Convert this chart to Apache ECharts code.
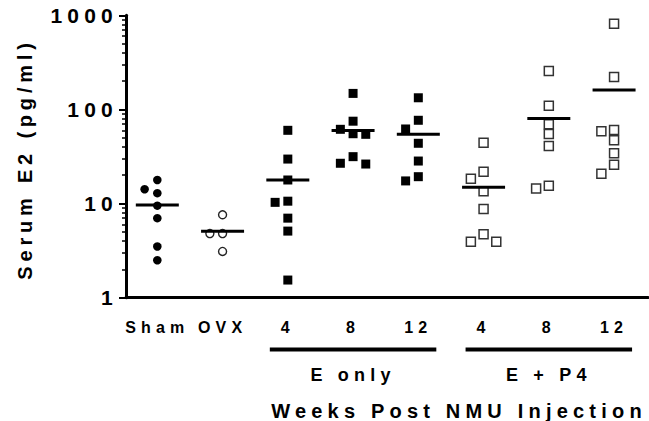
<!DOCTYPE html>
<html>
<head>
<meta charset="utf-8">
<script src="https://cdn.jsdelivr.net/npm/echarts@6/dist/echarts.min.js"></script>
<style>
  html, body { margin: 0; padding: 0; background: #fff; }
  #main { width: 649px; height: 421px; }
  #main text { letter-spacing: 5.2px; }
</style>
</head>
<body>
<div id="main"></div>
<script>
// ---- data ----
const categories = ['Sham', 'OVX', '4', '8', '12', '4', '8', '12'];
const sham    = [17.8, 12.9, 14.2, 9.5, 7.0, 3.5, 2.5];
const ovx     = [7.6, 4.8, 4.8, 3.1];
const eOnly4  = [60, 29.7, 17.8, 10.3, 10.6, 7.0, 5.1, 1.54];
const eOnly8  = [148, 75, 61.5, 55.2, 54.4, 31.5, 26.3, 26.8];
const eOnly12 = [133, 76.7, 62, 43.7, 28.3, 19.3, 17.4];
const eP4_4   = [44.3, 21.8, 18.4, 13.5, 8.76, 4.71, 3.94, 3.94];
const eP4_8   = [256, 109.6, 69.5, 54.8, 40.9, 15.5, 14.5];
const eP4_12  = [815, 221, 60.5, 58.6, 47, 34.2, 25.9, 20.8];
const yTickValues = [1, 10, 100, 1000];
const groupLabels = ['E only', 'E + P4'];
const xTitle = 'Weeks Post NMU Injection';
const yTitle = 'Serum E2 (pg/ml)';

const groups = [sham, ovx, eOnly4, eOnly8, eOnly12, eP4_4, eP4_8, eP4_12];

// ---- layout constants ----
const FONT = "'Liberation Sans', Arial, sans-serif";
const gridLeft = 126, gridRight = 1, gridTop = 15.3, gridBottom = 123.3;
const xMin = -0.48, xMax = 7.52;
const plotW = 649 - gridLeft - gridRight;
const pxPerUnit = plotW / (xMax - xMin);
const plotH = 421 - gridTop - gridBottom;
const pxPerDecade = plotH / 3;
const SYM = 9.5;          // collision size in px
const STEP = 12.7;        // horizontal slot in px

// simple beeswarm: place points (descending) at the nearest free slot
function swarm(values, idx) {
  const sorted = values.slice().sort((a, b) => b - a);
  const placed = [];
  const cands = [0, -1, 1, -2, 2, -3, 3];
  sorted.forEach(v => {
    const y = Math.log10(v) * pxPerDecade;
    for (const c of cands) {
      const x = c * STEP;
      const hit = placed.some(p => Math.abs(p.x - x) < SYM && Math.abs(p.y - y) < SYM);
      if (!hit) { placed.push({ x, y, v }); break; }
    }
  });
  return placed.map(p => [idx + p.x / pxPerUnit, p.v]);
}
const mean = arr => arr.reduce((s, v) => s + v, 0) / arr.length;

const pts = groups.map((g, i) => swarm(g, i));
const filledCircle = pts[0];
const hollowCircle = pts[1];
const filledSquare = pts[2].concat(pts[3], pts[4]);
const hollowSquare = pts[5].concat(pts[6], pts[7]);
const means = groups.map((g, i) => [i, mean(g)]);

const minorTicks = [];
for (let d = 1; d <= 100; d *= 10) for (let k = 2; k <= 9; k++) minorTicks.push(k * d);

const chart = echarts.init(document.getElementById('main'), null, { renderer: 'svg' });
const option = {
  animation: false,
  backgroundColor: '#fff',
  grid: { left: gridLeft, right: gridRight, top: gridTop, bottom: gridBottom, outerBoundsMode: 'none', containLabel: false },
  xAxis: {
    type: 'value', min: xMin, max: xMax,
    splitLine: { show: false },
    axisLine: { show: true, onZero: false, lineStyle: { color: '#000', width: 3 } },
    axisTick: { show: false },
    axisLabel: {
      customValues: categories.map((c, i) => i),
      formatter: v => categories[Math.round(v)],
      color: '#000', fontFamily: FONT, fontWeight: 'bold', fontSize: 16, margin: 22
    }
  },
  yAxis: [{
    type: 'log', logBase: 10, min: 1, max: 1000,
    splitLine: { show: false },
    axisLine: { show: true, onZero: false, lineStyle: { color: '#000', width: 3 } },
    axisTick: { show: true, customValues: yTickValues, length: 7, lineStyle: { color: '#000', width: 2 } },
    axisLabel: { customValues: yTickValues, formatter: v => String(v),
      color: '#000', fontFamily: FONT, fontWeight: 'bold', fontSize: 21, margin: 8 }
  }, {
    type: 'log', logBase: 10, min: 1, max: 1000, position: 'left',
    splitLine: { show: false },
    axisLine: { show: false, onZero: false },
    axisLabel: { show: false },
    axisTick: { show: true, customValues: minorTicks, length: 4, lineStyle: { color: '#000', width: 1.5 } }
  }],
  series: [
    { type: 'scatter', data: filledCircle, symbol: 'circle', symbolSize: 8.5,
      itemStyle: { color: '#000', opacity: 1 } },
    { type: 'scatter', data: hollowCircle, symbol: 'circle', symbolSize: 8,
      itemStyle: { color: '#fff', borderColor: '#222', borderWidth: 1.4, opacity: 1 } },
    { type: 'scatter', data: filledSquare, symbol: 'rect', symbolSize: 9,
      itemStyle: { color: '#000', opacity: 1 } },
    { type: 'scatter', data: hollowSquare, symbol: 'rect', symbolSize: 9,
      itemStyle: { color: '#fff', borderColor: '#333', borderWidth: 1.5, opacity: 1 } },
    { type: 'scatter', data: means, symbol: 'rect', symbolSize: [43, 3], z: 5,
      itemStyle: { color: '#000', opacity: 1 } }
  ]
};
chart.setOption(option);

// group brackets and titles around the plot
const px = v => chart.convertToPixel({ xAxisIndex: 0 }, v);
const barY = 347.5, ext = 18;
const e1 = [px(2) - ext, px(4) + ext];
const e2 = [px(5) - ext, px(7) + ext];
const textStyle = (x, y, t, size, rotation) => ({
  type: 'text', x, y, rotation: rotation || 0,
  style: { text: t, fill: '#000', font: `bold ${size}px ${FONT}`, textAlign: 'center', textVerticalAlign: 'middle' }
});
chart.setOption({
  graphic: [
    { type: 'rect', shape: { x: e1[0], y: barY, width: e1[1] - e1[0], height: 4 }, style: { fill: '#000' } },
    { type: 'rect', shape: { x: e2[0], y: barY, width: e2[1] - e2[0], height: 4 }, style: { fill: '#000' } },
    textStyle((e1[0] + e1[1]) / 2, 375, groupLabels[0], 18),
    textStyle((e2[0] + e2[1]) / 2, 375, groupLabels[1], 18),
    textStyle(459, 411, xTitle, 20),
    textStyle(25, 159, yTitle, 20, Math.PI / 2)
  ]
});

// the y title has slightly tighter letter spacing in the reference
function adjustTitle() {
  document.querySelectorAll('#main text').forEach(t => {
    if (t.textContent === yTitle) t.style.letterSpacing = '4.8px';
  });
}
chart.on('finished', adjustTitle);
setTimeout(adjustTitle, 0);
setTimeout(adjustTitle, 50);
</script>
</body>
</html>
